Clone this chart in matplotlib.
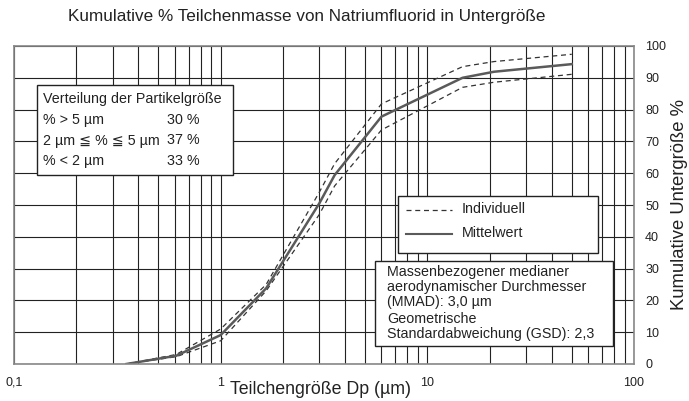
import matplotlib
matplotlib.use("Agg")
import matplotlib.pyplot as plt
from matplotlib import patches as patch
from matplotlib import lines
from matplotlib.ticker import FixedLocator, LogLocator, NullFormatter

plt.rcParams['font.family'] = ['Liberation Sans', 'DejaVu Sans']

# particle size (um) and cumulative undersize (%)
size_um = [0.35, 0.61, 1.0, 1.66, 3.0, 3.56, 6.0, 14.8, 21, 50]
mean_pct = [0, 2.6, 9.1, 23.8, 50.5, 59.4, 77.8, 90.0, 91.9, 94.3]
upper_pct = [0, 3.0, 11.0, 25.0, 54.0, 63.0, 81.8, 93.5, 95.1, 97.4]
lower_pct = [0, 2.3, 7.3, 23.0, 47.0, 56.0, 73.6, 87.0, 88.6, 91.1]

x_ticks = [0.1, 1, 10, 100]
x_tick_labels = ["0,1", "1", "10", "100"]
y_ticks = list(range(0, 101, 10))

dist_rows = [("% > 5 µm", "30 %"),
             ("2 µm ≦ % ≦ 5 µm", "37 %"),
             ("% < 2 µm", "33 %")]
mmad_lines = ["Massenbezogener medianer",
              "aerodynamischer Durchmesser",
              "(MMAD): 3,0 µm",
              "Geometrische",
              "Standardabweichung (GSD): 2,3"]

W, H = 689, 401
fig = plt.figure(figsize=(W / 100, H / 100), dpi=100)
ink = "#222222"


def fx(px):
    return px / W


def fy(py):
    return 1 - py / H


ax = fig.add_axes([fx(14), fy(364), fx(634) - fx(14), fy(46) - fy(364)])
ax.set_xscale("log")
ax.set_xlim(0.1, 100)
ax.set_ylim(0, 100)

ax.plot(size_um, upper_pct, color="#333333", lw=0.9, ls=(0, (4, 3)))
ax.plot(size_um, lower_pct, color="#333333", lw=0.9, ls=(0, (4, 3)))
ax.plot(size_um, mean_pct, color="#5a5a5a", lw=1.8)

ax.xaxis.set_major_locator(FixedLocator(x_ticks))
ax.xaxis.set_minor_locator(LogLocator(base=10, subs=range(2, 10)))
ax.xaxis.set_minor_formatter(NullFormatter())
ax.set_xticklabels(x_tick_labels)
ax.yaxis.tick_right()
ax.set_yticks(y_ticks)
ax.grid(True, which="both", axis="x", color=ink, lw=0.8)
ax.grid(True, which="major", axis="y", color=ink, lw=0.8)
ax.tick_params(which="both", length=0, labelsize=9, colors=ink)
ax.tick_params(axis="x", pad=9)
ax.tick_params(axis="y", pad=8)
for s in ax.spines.values():
    s.set_color("#888888")
    s.set_linewidth(1.2)

fig.text(fx(307), fy(17), "Kumulative % Teilchenmasse von Natriumfluorid in Untergröße",
         ha="center", va="center", fontsize=12.3, color=ink)
fig.text(fx(320), fy(389), "Teilchengröße Dp (µm)", ha="center", va="center",
         fontsize=12.8, color=ink)
fig.text(fx(680), fy(204), "Kumulative Untergröße %", ha="center", va="center",
         rotation=90, fontsize=13.3, color=ink)


def box(x0, y0, x1, y1):
    r = patch.Rectangle((fx(x0), fy(y1)), fx(x1) - fx(x0), fy(y0) - fy(y1),
                        transform=fig.transFigure, facecolor="white",
                        edgecolor=ink, lw=1.0, zorder=5)
    fig.add_artist(r)


fs = 10.3

# size distribution box
box(37, 85, 233, 175)
fig.text(fx(43), fy(99), "Verteilung der Partikelgröße", va="center",
         fontsize=fs, color=ink, zorder=6)
for i, (lab, val) in enumerate(dist_rows):
    yy = 120 + i * 20.5
    fig.text(fx(43), fy(yy), lab, va="center", fontsize=fs, color=ink, zorder=6)
    fig.text(fx(167), fy(yy), val, va="center", fontsize=fs, color=ink, zorder=6)

# legend box
box(398, 196, 598, 253)
leg1 = lines.Line2D([fx(406), fx(452)], [fy(210), fy(210)], transform=fig.transFigure,
                    color="#333333", lw=0.9, ls=(0, (4, 3)), zorder=6)
leg2 = lines.Line2D([fx(406), fx(452)], [fy(234), fy(234)], transform=fig.transFigure,
                    color="#5a5a5a", lw=1.5, zorder=6)
fig.add_artist(leg1)
fig.add_artist(leg2)
fig.text(fx(462), fy(209), "Individuell", va="center", fontsize=fs, color=ink, zorder=6)
fig.text(fx(462), fy(233), "Mittelwert", va="center", fontsize=fs, color=ink, zorder=6)

# MMAD box
box(375, 261, 613, 346)
for i, t in enumerate(mmad_lines):
    yy = [272, 287, 302, 319, 334][i]
    fig.text(fx(387), fy(yy), t, va="center", fontsize=fs, color=ink, zorder=6)

fig.savefig("out.png", dpi=100)
